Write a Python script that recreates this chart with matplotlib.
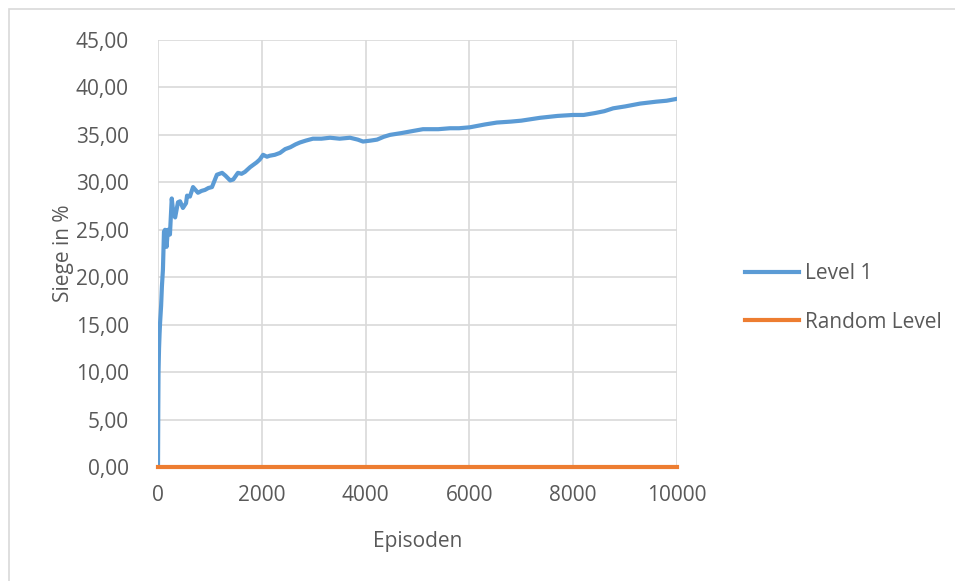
import matplotlib.pyplot as plt
from matplotlib.patches import Rectangle
from matplotlib.ticker import FuncFormatter

# Win rate (%) over training episodes
episodes = [0, 5, 10, 20, 30, 40, 60, 75, 95, 115, 135, 165, 190, 230, 265,
            290, 330, 385, 425, 480, 540, 560, 615, 675, 770, 840, 905, 970,
            1040, 1135, 1235, 1300, 1390, 1450, 1540, 1610, 1675, 1775, 1850,
            1900, 1960, 2025, 2100, 2150, 2250, 2350, 2450, 2550, 2650, 2735,
            2850, 2985, 3150, 3315, 3500, 3700, 3850, 3950, 4100, 4220, 4350,
            4470, 4700, 4900, 5105, 5400, 5625, 5800, 6010, 6300, 6530, 6800,
            7000, 7360, 7700, 7995, 8200, 8420, 8600, 8770, 9000, 9290, 9600,
            9800, 10000]
level_1 = [0.0, 6.0, 10.0, 12.5, 14.0, 15.2, 17.0, 19.0, 20.8, 24.8, 25.0,
           23.2, 25.0, 24.5, 28.3, 27.0, 26.3, 27.9, 28.0, 27.3, 27.8, 28.6,
           28.5, 29.5, 28.9, 29.1, 29.2, 29.4, 29.5, 30.8, 31.0, 30.7, 30.2,
           30.3, 31.0, 30.9, 31.1, 31.6, 31.9, 32.1, 32.4, 32.9, 32.7, 32.8,
           32.9, 33.1, 33.5, 33.7, 34.0, 34.2, 34.4, 34.6, 34.6, 34.7, 34.6,
           34.7, 34.5, 34.3, 34.4, 34.5, 34.8, 35.0, 35.2, 35.4, 35.6, 35.6,
           35.7, 35.7, 35.8, 36.1, 36.3, 36.4, 36.5, 36.8, 37.0, 37.1, 37.1,
           37.3, 37.5, 37.8, 38.0, 38.3, 38.5, 38.6, 38.8]

random_episodes = [0, 2000, 4000, 6000, 8000, 10000]
random_level = [0.0, 0.0, 0.0, 0.0, 0.0, 0.0]

x_ticks = [0, 2000, 4000, 6000, 8000, 10000]
y_ticks = [0, 5, 10, 15, 20, 25, 30, 35, 40, 45]

plt.rcParams['font.family'] = ['Open Sans', 'DejaVu Sans']
text_color = '#595959'
grid_color = '#D9D9D9'

W, H = 955, 581
fig = plt.figure(figsize=(W / 100, H / 100), dpi=100)
ax = fig.add_axes([158 / W, (H - 467) / H, 519 / W, 427 / H])

# chart frame (right and bottom edges run off the canvas)
fig.patches.append(Rectangle((9 / W, -0.05), 1.2, (H - 9) / H + 0.05,
                             transform=fig.transFigure, fill=False,
                             edgecolor='#D9D9D9', linewidth=1.2))

ax.plot(episodes, level_1, color='#5B9BD5', linewidth=3.0, label='Level 1',
        solid_joinstyle='round', zorder=3)
ax.plot(random_episodes, random_level, color='#ED7D31', linewidth=3.0,
        label='Random Level', zorder=4, clip_on=False)

ax.set_xlim(0, 10000)
ax.set_ylim(0, 45)
ax.set_xticks(x_ticks)
ax.set_yticks(y_ticks)
ax.yaxis.set_major_formatter(FuncFormatter(lambda v, p: f'{v:.2f}'.replace('.', ',')))
ax.tick_params(length=0, labelsize=15, colors=text_color)
ax.tick_params(axis='y', pad=21)
ax.tick_params(axis='x', pad=13)
ax.grid(True, color=grid_color, linewidth=1.2)
ax.set_axisbelow(True)
for s in ax.spines.values():
    s.set_visible(False)

ax.set_xlabel('Episoden', fontsize=15, color=text_color, labelpad=18)
ax.set_ylabel('Siege in %', fontsize=15, color=text_color, labelpad=1)

fig.legend(loc='center left', bbox_to_anchor=(745 / W, 1 - 298 / H),
           frameon=False, fontsize=15, labelcolor=text_color, handlelength=2.6,
           handletextpad=0.3, labelspacing=1.3, borderpad=0, borderaxespad=0)

plt.savefig('out.png', dpi=100)
